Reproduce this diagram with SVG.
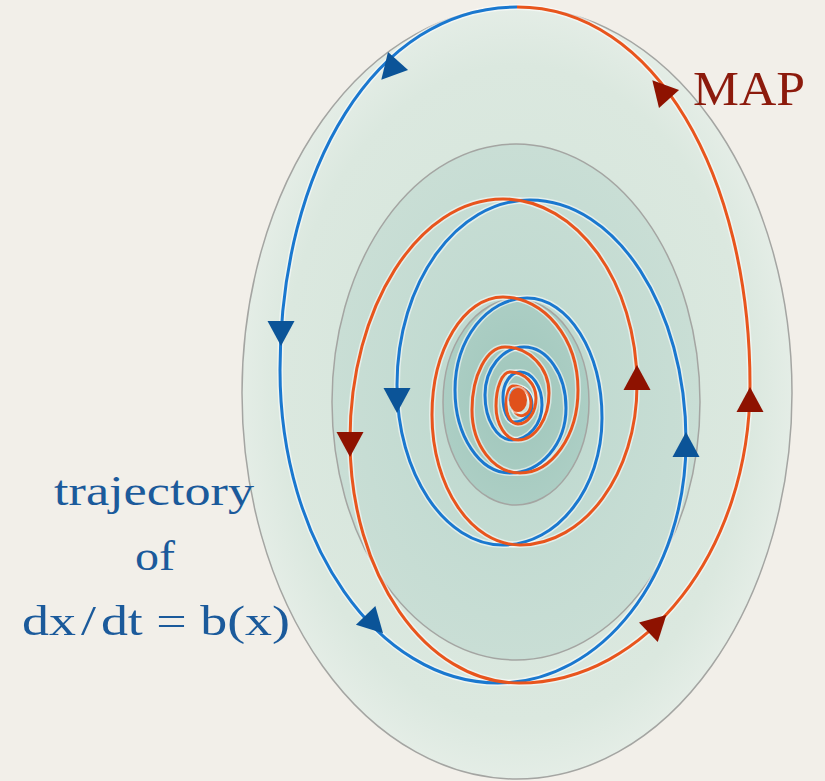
<svg xmlns="http://www.w3.org/2000/svg" width="825" height="781" viewBox="0 0 825 781">
<defs>
<radialGradient id="gOuter" cx="0.5" cy="0.5" r="0.5">
<stop offset="0" stop-color="#d2e4da"/><stop offset="0.85" stop-color="#dbe8df"/><stop offset="1" stop-color="#e4ede6"/>
</radialGradient>
<radialGradient id="gMid" cx="0.5" cy="0.5" r="0.5">
<stop offset="0" stop-color="#bcd8ce"/><stop offset="1" stop-color="#c9ded5"/>
</radialGradient>
<radialGradient id="gIn" cx="0.5" cy="0.5" r="0.5">
<stop offset="0" stop-color="#9fc6bb"/><stop offset="1" stop-color="#accec4"/>
</radialGradient>
<path id="ah" d="M13,0 L-12,-13.5 L-12,13.5 Z"/>
<style>
.reg{stroke:#a4a5a2;stroke-width:1.5}
.halo{fill:none;stroke:#ffffff;stroke-width:6;stroke-opacity:0.55;stroke-linejoin:round}
.blue{fill:none;stroke:#1a78cf;stroke-width:3;stroke-linejoin:round}
.orange{fill:none;stroke:#e8551d;stroke-width:3;stroke-linejoin:round}
.ab{fill:#0b5498}
.ao{fill:#8e1200}
.lbl{font-family:"Liberation Serif","Times New Roman",serif;fill:#1b5a9b;font-size:43px;text-anchor:middle}
.map{font-family:"Liberation Serif","Times New Roman",serif;fill:#8c1a0c;font-size:49px}
</style>
</defs>
<rect width="825" height="781" fill="#f2efe9"/>
<g id="regions">
<ellipse id="outer" class="reg" cx="517" cy="393" rx="275" ry="386" fill="url(#gOuter)"/>
<ellipse id="middle" class="reg" cx="516" cy="402" rx="184" ry="258" fill="url(#gMid)"/>
<ellipse id="inner" class="reg" cx="516" cy="402" rx="73" ry="103" fill="url(#gIn)"/>
</g>
<g id="connectors">
<path id="blueHalo" class="halo" d="M517,7 C375,7 280,169.6 280,370 C280,542.8 377.7,683 498,683 C601.8,683 686,574.6 686,441 C686,308 616.1,200 530,200 C456.6,200 397,282.9 397,385 C397,473.3 444.5,545 503,545 C557.6,545 602,488.1 602,418 C602,351.8 568.4,298 527,298 C487.3,298 455,339.2 455,390 C455,435.8 479.6,473 510,473 C540.9,473 566,443.9 566,408 C566,374.3 547.2,347 524,347 C502.5,347 485,368.5 485,395 C485,419.8 497.1,440 512,440 C528.6,440 542,424.3 542,405 C542,386.8 532.1,372 520,372 C510.6,372 503,383.2 503,397 C503,410.8 507.9,422 514,422 C523.9,422 532,414.4 532,405 C532,395.6 526.2,388 519,388 C512,388 509,395 510,401"/>
<path id="orangeHalo" class="halo" d="M514,410 C518,420 531,416 531,403 C531,393.6 522.9,386 513,386 C509.1,386 506,394.5 506,405 C506,415.5 511.4,424 518,424 C527.9,424 536,412.4 536,398 C536,383.6 524.4,372 510,372 C502.3,372 496,387.2 496,406 C496,424.8 505.9,440 518,440 C535.1,440 549,418.9 549,393 C549,367.6 529.3,347 505,347 C486.8,347 472,375.2 472,410 C472,444.8 493.5,473 520,473 C552,473 578,435.8 578,390 C578,338.7 544.4,297 503,297 C463.8,297 432,349.9 432,415 C432,486.8 471.4,545 520,545 C584.6,545 637,473.3 637,385 C637,282.3 577,199 503,199 C418.5,199 350,307 350,440 C350,574.1 425.7,683 519,683 C646.5,683 750,549.5 750,385 C750,176.3 655,7 517,7"/>
<path id="trajectory" class="blue" d="M517,7 C375,7 280,169.6 280,370 C280,542.8 377.7,683 498,683 C601.8,683 686,574.6 686,441 C686,308 616.1,200 530,200 C456.6,200 397,282.9 397,385 C397,473.3 444.5,545 503,545 C557.6,545 602,488.1 602,418 C602,351.8 568.4,298 527,298 C487.3,298 455,339.2 455,390 C455,435.8 479.6,473 510,473 C540.9,473 566,443.9 566,408 C566,374.3 547.2,347 524,347 C502.5,347 485,368.5 485,395 C485,419.8 497.1,440 512,440 C528.6,440 542,424.3 542,405 C542,386.8 532.1,372 520,372 C510.6,372 503,383.2 503,397 C503,410.8 507.9,422 514,422 C523.9,422 532,414.4 532,405 C532,395.6 526.2,388 519,388 C512,388 509,395 510,401"/>
<path id="mapPath" class="orange" d="M514,410 C518,420 531,416 531,403 C531,393.6 522.9,386 513,386 C509.1,386 506,394.5 506,405 C506,415.5 511.4,424 518,424 C527.9,424 536,412.4 536,398 C536,383.6 524.4,372 510,372 C502.3,372 496,387.2 496,406 C496,424.8 505.9,440 518,440 C535.1,440 549,418.9 549,393 C549,367.6 529.3,347 505,347 C486.8,347 472,375.2 472,410 C472,444.8 493.5,473 520,473 C552,473 578,435.8 578,390 C578,338.7 544.4,297 503,297 C463.8,297 432,349.9 432,415 C432,486.8 471.4,545 520,545 C584.6,545 637,473.3 637,385 C637,282.3 577,199 503,199 C418.5,199 350,307 350,440 C350,574.1 425.7,683 519,683 C646.5,683 750,549.5 750,385 C750,176.3 655,7 517,7"/>
<use href="#ah" class="ab" transform="translate(390,70) rotate(132)"/>
<use href="#ah" class="ab" transform="translate(281,333) rotate(90)"/>
<use href="#ah" class="ab" transform="translate(397,400) rotate(90)"/>
<use href="#ah" class="ab" transform="translate(686,445) rotate(-90)"/>
<use href="#ah" class="ab" transform="translate(374,624) rotate(46)"/>
<use href="#ah" class="ao" transform="translate(661,90) rotate(-132)"/>
<use href="#ah" class="ao" transform="translate(350,444) rotate(90)"/>
<use href="#ah" class="ao" transform="translate(637,378) rotate(-90)"/>
<use href="#ah" class="ao" transform="translate(750,400) rotate(-90)"/>
<use href="#ah" class="ao" transform="translate(657,624) rotate(-44)"/>
</g>
<g id="fixedPoint">
<ellipse cx="518" cy="400" rx="11" ry="14" fill="#ffffff" fill-opacity="0.5"/>
<ellipse cx="518" cy="400" rx="9" ry="12" fill="#e0511b"/>
</g>
<g id="labels">
<text class="map" x="693" y="105" textLength="112" lengthAdjust="spacingAndGlyphs">MAP</text>
<text class="lbl" x="154" y="505" textLength="200" lengthAdjust="spacingAndGlyphs">trajectory</text>
<text class="lbl" x="155" y="570" textLength="40" lengthAdjust="spacingAndGlyphs">of</text>
<text class="lbl" x="156" y="635" textLength="268" lengthAdjust="spacingAndGlyphs">dx<tspan dx="4">/</tspan><tspan dx="4">dt = b(x)</tspan></text>
</g>
</svg>
